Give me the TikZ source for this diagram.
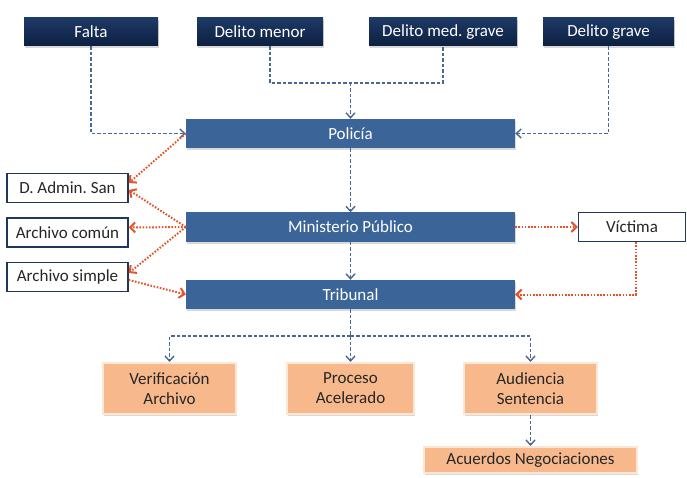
\documentclass[tikz,border=0pt]{standalone}
\usepackage{fontspec}
\setmainfont{Carlito}
\usetikzlibrary{arrows.meta,shadows}

\definecolor{navytop}{RGB}{30,58,102}
\definecolor{navybot}{RGB}{12,31,64}
\definecolor{stageblue}{RGB}{59,101,152}
\definecolor{peach}{RGB}{247,185,140}
\definecolor{peachline}{RGB}{252,230,212}
\definecolor{flowblue}{RGB}{74,104,148}
\definecolor{flowred}{RGB}{226,84,44}
\definecolor{boxline}{RGB}{31,56,90}

\tikzset{
  boxshadow/.style={drop shadow={shadow xshift=1pt, shadow yshift=-2pt, opacity=0.3}},
  crimebox/.style={top color=navytop, bottom color=navybot, text=white,
    minimum height=28pt, inner sep=0pt, boxshadow},
  stagebox/.style={fill=stageblue, text=white, minimum width=329pt,
    minimum height=29pt, inner sep=0pt, boxshadow},
  sidebox/.style={draw=boxline, line width=1.5pt, fill=white, text=black!85,
    minimum width=121pt, minimum height=29pt, inner sep=0pt},
  outbox/.style={fill=peach, draw=peachline, line width=2pt, text=black!85,
    align=center, minimum height=51pt, inner sep=0pt, boxshadow},
  flow/.style={draw=flowblue, line width=1.4pt, dash pattern=on 3.5pt off 2pt,
    -{Straight Barb[length=5pt,width=9pt]}},
  alt/.style={draw=flowred, line width=2pt, dash pattern=on 1.6pt off 1.6pt,
    -{Straight Barb[length=5pt,width=10pt]}}
}

\begin{document}
\frenchspacing
\begin{tikzpicture}[x=1pt, y=-1pt, font=\fontsize{17}{20}\selectfont]
  \useasboundingbox (0,0) rectangle (687,478);

  % Offence boxes
  \node[crimebox, minimum width=134pt] (falta) at (91,32) {Falta};
  \node[crimebox, minimum width=126pt] (menor) at (260,32) {Delito menor};
  \node[crimebox, minimum width=148pt] (medgrave) at (443,32) {Delito med. grave};
  \node[crimebox, minimum width=131pt] (grave) at (608.5,32) {Delito grave};

  % Main stages
  \node[stagebox] (policia) at (350.5,133.5) {Policía};
  \node[stagebox] (ministerio) at (350.5,227) {Ministerio Público};
  \node[stagebox] (tribunal) at (350.5,294.5) {Tribunal};

  % Side boxes
  \node[sidebox] (dadmin) at (67.5,188) {D. Admin. San};
  \node[sidebox] (comun) at (67.5,232.5) {Archivo común};
  \node[sidebox] (simple) at (67.5,277) {Archivo simple};
  \node[sidebox, minimum width=107pt] (victima) at (632,227) {Víctima};

  % Outcomes
  \node[outbox, minimum width=133pt] (verif) at (169.5,388.5) {Verificación\\Archivo};
  \node[outbox, minimum width=127pt] (proceso) at (350.5,388.5) {Proceso\\Acelerado};
  \node[outbox, minimum width=133pt] (audiencia) at (530.5,388.5) {Audiencia\\Sentencia};
  \node[outbox, minimum width=213pt, minimum height=26pt] (acuerdos) at (530.5,460) {Acuerdos Negociaciones};

  % Blue flow
  \coordinate (topjoin) at (350.5,83);
  \draw[flow, -] ([xshift=10pt]menor.south) |- (topjoin) -| (medgrave.south);
  \draw[flow] (topjoin) -- (policia.north);
  \draw[flow] (falta.south) |- (policia.west);
  \draw[flow] (grave.south) |- (policia.east);
  \draw[flow] (policia) -- (ministerio);
  \draw[flow] (ministerio) -- (tribunal);
  \coordinate (botjoin) at (350.5,336);
  \draw[flow, -] (tribunal.south) -- (botjoin);
  \draw[flow] (botjoin) -| (verif.north);
  \draw[flow] (botjoin) -- (proceso.north);
  \draw[flow] (botjoin) -| (audiencia.north);
  \draw[flow] (audiencia) -- (acuerdos);

  % Red alternatives
  \draw[alt] (policia.west) -- ([yshift=5pt]dadmin.east);
  \draw[alt] (ministerio.west) -- ([yshift=-2pt]dadmin.east);
  \draw[alt] (ministerio.west) -- ([yshift=5pt]comun.east);
  \draw[alt] (ministerio.west) -- ([yshift=4pt]simple.east);
  \draw[alt] ([yshift=-3pt]simple.east) -- (tribunal.west);
  \draw[alt] (ministerio) -- (victima);
  \draw[alt] ([xshift=4pt]victima.south) |- (tribunal.east);
\end{tikzpicture}
\end{document}
